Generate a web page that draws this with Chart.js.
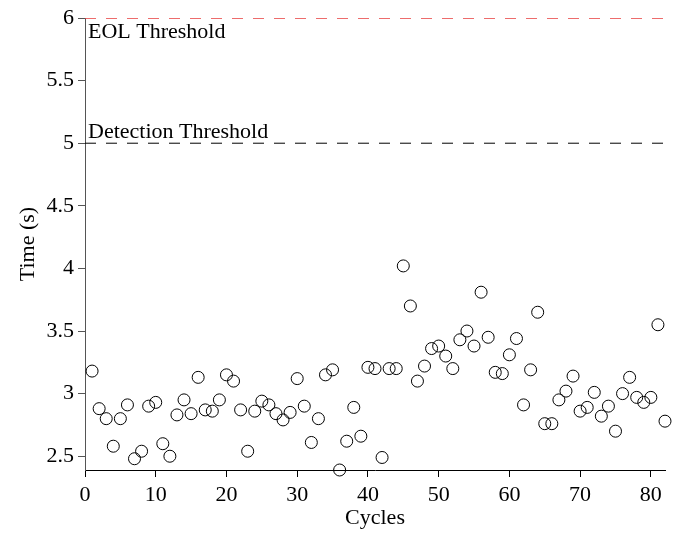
<!DOCTYPE html>
<html>
<head>
<meta charset="utf-8">
<script src="https://cdn.jsdelivr.net/npm/chart.js@4/dist/chart.umd.min.js"></script>
<style>
  html, body { margin: 0; padding: 0; background: #fff; }
  #wrap { width: 679px; height: 533px; }
</style>
</head>
<body>
<div id="wrap"><canvas id="scatterChart" width="679" height="533"></canvas></div>
<script>
var cycles = [1, 2, 3, 4, 5, 6, 7, 8, 9, 10, 11, 12, 13, 14, 15, 16, 17, 18, 19, 20,
  21, 22, 23, 24, 25, 26, 27, 28, 29, 30, 31, 32, 33, 34, 35, 36, 37, 38, 39, 40,
  41, 42, 43, 44, 45, 46, 47, 48, 49, 50, 51, 52, 53, 54, 55, 56, 57, 58, 59, 60,
  61, 62, 63, 64, 65, 66, 67, 68, 69, 70, 71, 72, 73, 74, 75, 76, 77, 78, 79, 80,
  81, 82];
var times = [3.18, 2.88, 2.80, 2.58, 2.80, 2.91, 2.48, 2.54, 2.90, 2.93,
  2.60, 2.50, 2.83, 2.95, 2.84, 3.13, 2.87, 2.86, 2.95, 3.15,
  3.10, 2.87, 2.54, 2.86, 2.94, 2.91, 2.84, 2.79, 2.85, 3.12,
  2.90, 2.61, 2.80, 3.15, 3.19, 2.39, 2.62, 2.89, 2.66, 3.21,
  3.20, 2.49, 3.20, 3.20, 4.02, 3.70, 3.10, 3.22, 3.36, 3.38,
  3.30, 3.20, 3.43, 3.50, 3.38, 3.81, 3.45, 3.17, 3.16, 3.31,
  3.44, 2.91, 3.19, 3.65, 2.76, 2.76, 2.95, 3.02, 3.14, 2.86,
  2.89, 3.01, 2.82, 2.90, 2.70, 3.00, 3.13, 2.97, 2.93, 2.97,
  3.55, 2.78];
var xTicks = [0, 10, 20, 30, 40, 50, 60, 70, 80];
var yTicks = [2.5, 3, 3.5, 4, 4.5, 5, 5.5, 6];
var eolLevel = 6;
var detectionLevel = 5;
var xRange = [0, 82];
var yRange = [2.39, 6];

var serif = '"Liberation Serif", "DejaVu Serif", serif';

function pts(xs, ys) {
  return xs.map(function (x, i) { return { x: x, y: ys[i] }; });
}

var thresholdLabels = {
  id: 'thresholdLabels',
  afterDatasetsDraw: function (chart) {
    var c = chart.ctx, xs = chart.scales.x, ys = chart.scales.y;
    c.save();
    c.font = '22px ' + serif;
    c.fillStyle = '#000';
    c.textAlign = 'left';
    c.textBaseline = 'top';
    c.fillText('EOL Threshold', xs.left + 3, ys.getPixelForValue(eolLevel) + 3);
    c.textBaseline = 'alphabetic';
    c.fillText('Detection Threshold', xs.left + 3, ys.getPixelForValue(detectionLevel) - 5);
    c.restore();
  }
};

var ctx = document.getElementById('scatterChart').getContext('2d');
var myChart = new Chart(ctx, {
  type: 'scatter',
  data: {
    datasets: [{
      label: 'Time',
      data: pts(cycles, times),
      pointStyle: 'circle',
      pointRadius: 6,
      pointBorderWidth: 1,
      pointBorderColor: '#000',
      pointBackgroundColor: 'rgba(0,0,0,0)',
      showLine: false,
      clip: false
    }, {
      label: 'EOL Threshold',
      type: 'line',
      data: pts(xRange, [eolLevel, eolLevel]),
      borderColor: 'rgb(232,60,60)',
      borderWidth: 1.3,
      borderDash: [11, 10],
      pointRadius: 0,
      fill: false
    }, {
      label: 'Detection Threshold',
      type: 'line',
      data: pts(xRange, [detectionLevel, detectionLevel]),
      borderColor: '#000',
      borderWidth: 1,
      borderDash: [11, 10],
      pointRadius: 0,
      fill: false
    }]
  },
  options: {
    responsive: false,
    animation: false,
    events: [],
    layout: {
      padding: { top: 18, right: 14, left: 0, bottom: 0 }
    },
    plugins: {
      legend: { display: false },
      tooltip: { enabled: false }
    },
    scales: {
      x: {
        type: 'linear',
        min: xRange[0],
        max: xRange[1],
        afterBuildTicks: function (s) { s.ticks = xTicks.map(function (v) { return { value: v }; }); },
        afterFit: function (s) { s.height = 63; },
        border: { display: true, color: '#000', width: 1 },
        grid: { display: true, drawOnChartArea: false, drawTicks: true, tickLength: 7, color: '#000' },
        ticks: {
          color: '#000',
          padding: 5,
          maxRotation: 0,
          font: { family: serif, size: 22 },
          callback: function (v) { return String(v); }
        },
        title: {
          display: true,
          text: 'Cycles',
          color: '#000',
          padding: { top: 0, bottom: 2 },
          font: { family: serif, size: 22 }
        }
      },
      y: {
        type: 'linear',
        min: yRange[0],
        max: yRange[1],
        afterBuildTicks: function (s) { s.ticks = yTicks.map(function (v) { return { value: v }; }); },
        afterFit: function (s) { s.width = 85; },
        border: { display: true, color: '#555', width: 1 },
        grid: { display: true, drawOnChartArea: false, drawTicks: true, tickLength: 7, color: '#555' },
        ticks: {
          color: '#000',
          padding: 4,
          font: { family: serif, size: 22 },
          callback: function (v) { return String(v); }
        },
        title: {
          display: true,
          text: 'Time (s)',
          color: '#000',
          padding: { top: 15, bottom: 0 },
          font: { family: serif, size: 22 }
        }
      }
    }
  },
  plugins: [thresholdLabels]
});
</script>
</body>
</html>
